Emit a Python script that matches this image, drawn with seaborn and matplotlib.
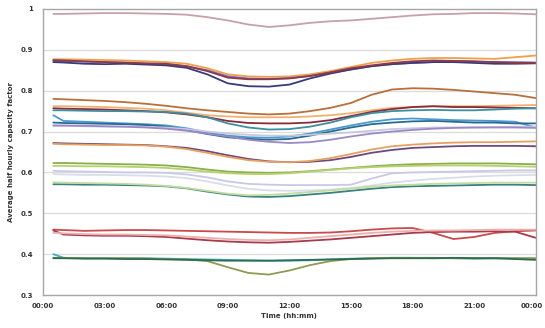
import matplotlib
matplotlib.use("Agg")
import matplotlib.pyplot as plt
import matplotlib.transforms as mtransforms
import seaborn as sns
import pandas as pd

# Half-hourly capacity factors sampled on an hourly grid (hours after midnight)
hours = [0.5, 1, 2, 3, 4, 5, 6, 7, 8, 9, 10, 11, 12, 13, 14, 15, 16, 17, 18, 19, 20, 21, 22, 23, 24]

series_a = [0.988, 0.988, 0.989, 0.990, 0.990, 0.989, 0.988, 0.986, 0.980, 0.972, 0.962, 0.956, 0.960, 0.966, 0.970, 0.972, 0.976, 0.980, 0.984, 0.987, 0.988, 0.990, 0.990, 0.989, 0.987]
series_b = [0.877, 0.877, 0.876, 0.875, 0.874, 0.872, 0.870, 0.866, 0.855, 0.840, 0.835, 0.834, 0.835, 0.840, 0.848, 0.858, 0.868, 0.874, 0.878, 0.880, 0.880, 0.879, 0.878, 0.882, 0.886]
series_c = [0.873, 0.872, 0.871, 0.870, 0.868, 0.866, 0.864, 0.860, 0.850, 0.835, 0.830, 0.829, 0.831, 0.836, 0.844, 0.852, 0.860, 0.865, 0.868, 0.870, 0.872, 0.871, 0.870, 0.870, 0.869]
series_d = [0.870, 0.869, 0.866, 0.865, 0.866, 0.864, 0.862, 0.856, 0.840, 0.818, 0.811, 0.810, 0.815, 0.830, 0.842, 0.852, 0.860, 0.865, 0.868, 0.870, 0.870, 0.868, 0.866, 0.866, 0.867]
series_e = [0.875, 0.874, 0.872, 0.870, 0.869, 0.867, 0.866, 0.860, 0.848, 0.832, 0.828, 0.828, 0.830, 0.836, 0.845, 0.855, 0.862, 0.868, 0.872, 0.874, 0.873, 0.872, 0.870, 0.868, 0.868]
series_f = [0.780, 0.779, 0.777, 0.775, 0.772, 0.768, 0.763, 0.757, 0.752, 0.748, 0.744, 0.742, 0.744, 0.750, 0.758, 0.770, 0.790, 0.803, 0.806, 0.805, 0.802, 0.798, 0.794, 0.790, 0.782]
series_g = [0.762, 0.762, 0.761, 0.760, 0.758, 0.756, 0.752, 0.746, 0.740, 0.737, 0.735, 0.735, 0.735, 0.737, 0.740, 0.745, 0.752, 0.758, 0.760, 0.762, 0.762, 0.762, 0.763, 0.764, 0.765]
series_h = [0.757, 0.756, 0.755, 0.754, 0.752, 0.750, 0.747, 0.742, 0.735, 0.726, 0.721, 0.720, 0.720, 0.722, 0.728, 0.738, 0.748, 0.755, 0.760, 0.762, 0.760, 0.760, 0.759, 0.758, 0.757]
series_i = [0.752, 0.752, 0.751, 0.750, 0.750, 0.749, 0.748, 0.744, 0.735, 0.720, 0.710, 0.705, 0.706, 0.712, 0.722, 0.735, 0.745, 0.750, 0.752, 0.753, 0.752, 0.752, 0.754, 0.756, 0.757]
series_j = [0.740, 0.726, 0.724, 0.722, 0.720, 0.718, 0.715, 0.708, 0.698, 0.690, 0.686, 0.685, 0.688, 0.695, 0.705, 0.715, 0.724, 0.730, 0.732, 0.730, 0.728, 0.727, 0.726, 0.724, 0.710]
series_k = [0.722, 0.721, 0.720, 0.719, 0.718, 0.716, 0.712, 0.704, 0.694, 0.686, 0.682, 0.680, 0.682, 0.690, 0.700, 0.710, 0.718, 0.722, 0.725, 0.726, 0.724, 0.722, 0.722, 0.720, 0.720]
series_l = [0.714, 0.714, 0.713, 0.712, 0.712, 0.711, 0.710, 0.706, 0.700, 0.695, 0.692, 0.690, 0.690, 0.692, 0.695, 0.698, 0.702, 0.706, 0.708, 0.710, 0.710, 0.710, 0.711, 0.712, 0.712]
series_m = [0.715, 0.715, 0.714, 0.713, 0.712, 0.710, 0.707, 0.702, 0.695, 0.688, 0.680, 0.675, 0.672, 0.674, 0.680, 0.688, 0.695, 0.700, 0.704, 0.707, 0.709, 0.710, 0.710, 0.710, 0.709]
series_n = [0.672, 0.671, 0.670, 0.669, 0.668, 0.667, 0.664, 0.660, 0.652, 0.642, 0.633, 0.627, 0.625, 0.626, 0.630, 0.638, 0.648, 0.655, 0.660, 0.662, 0.664, 0.665, 0.665, 0.665, 0.664]
series_o = [0.670, 0.669, 0.668, 0.667, 0.667, 0.666, 0.663, 0.657, 0.648, 0.638, 0.630, 0.626, 0.625, 0.628, 0.635, 0.645, 0.656, 0.664, 0.668, 0.671, 0.673, 0.674, 0.674, 0.675, 0.676]
series_p = [0.623, 0.623, 0.622, 0.621, 0.620, 0.619, 0.617, 0.613, 0.607, 0.602, 0.600, 0.599, 0.600, 0.603, 0.607, 0.611, 0.615, 0.618, 0.620, 0.621, 0.622, 0.622, 0.622, 0.621, 0.620]
series_q = [0.616, 0.616, 0.615, 0.615, 0.614, 0.613, 0.611, 0.607, 0.602, 0.598, 0.596, 0.596, 0.598, 0.602, 0.606, 0.610, 0.613, 0.615, 0.616, 0.617, 0.617, 0.617, 0.616, 0.615, 0.614]
series_r = [0.604, 0.603, 0.602, 0.601, 0.600, 0.600, 0.599, 0.595, 0.588, 0.578, 0.572, 0.570, 0.569, 0.569, 0.569, 0.570, 0.585, 0.598, 0.600, 0.601, 0.602, 0.603, 0.604, 0.605, 0.605]
series_s = [0.596, 0.595, 0.594, 0.594, 0.593, 0.592, 0.590, 0.586, 0.578, 0.568, 0.560, 0.556, 0.555, 0.556, 0.558, 0.562, 0.568, 0.575, 0.580, 0.584, 0.587, 0.590, 0.592, 0.593, 0.594]
series_t = [0.571, 0.571, 0.570, 0.570, 0.569, 0.568, 0.566, 0.561, 0.553, 0.546, 0.541, 0.540, 0.542, 0.546, 0.550, 0.555, 0.560, 0.564, 0.566, 0.567, 0.568, 0.569, 0.570, 0.570, 0.569]
series_u = [0.576, 0.575, 0.574, 0.573, 0.572, 0.570, 0.567, 0.562, 0.555, 0.548, 0.544, 0.545, 0.548, 0.552, 0.556, 0.560, 0.565, 0.568, 0.570, 0.572, 0.573, 0.574, 0.575, 0.575, 0.575]
series_v = [0.460, 0.459, 0.457, 0.458, 0.459, 0.459, 0.458, 0.457, 0.456, 0.455, 0.454, 0.453, 0.452, 0.452, 0.453, 0.456, 0.460, 0.463, 0.464, 0.452, 0.437, 0.442, 0.452, 0.456, 0.458]
series_w = [0.458, 0.448, 0.446, 0.445, 0.445, 0.444, 0.442, 0.438, 0.434, 0.431, 0.429, 0.428, 0.430, 0.433, 0.436, 0.440, 0.444, 0.448, 0.452, 0.454, 0.455, 0.455, 0.456, 0.455, 0.440]
series_x = [0.452, 0.451, 0.449, 0.448, 0.448, 0.447, 0.446, 0.443, 0.440, 0.437, 0.435, 0.434, 0.436, 0.440, 0.444, 0.448, 0.452, 0.455, 0.457, 0.458, 0.458, 0.459, 0.460, 0.460, 0.460]
series_y = [0.400, 0.391, 0.390, 0.390, 0.390, 0.390, 0.389, 0.388, 0.387, 0.386, 0.385, 0.384, 0.384, 0.385, 0.387, 0.389, 0.390, 0.391, 0.391, 0.390, 0.390, 0.389, 0.390, 0.390, 0.389]
series_z = [0.391, 0.391, 0.390, 0.390, 0.390, 0.389, 0.388, 0.387, 0.383, 0.368, 0.354, 0.350, 0.360, 0.373, 0.383, 0.388, 0.390, 0.391, 0.391, 0.391, 0.390, 0.390, 0.390, 0.390, 0.390]
series_aa = [0.390, 0.390, 0.389, 0.389, 0.388, 0.388, 0.387, 0.386, 0.385, 0.384, 0.384, 0.384, 0.385, 0.386, 0.387, 0.388, 0.389, 0.390, 0.390, 0.390, 0.391, 0.390, 0.390, 0.388, 0.386]

series_colors = {
    "A": ("#c8a0a8", series_a), "B": ("#f0a04b", series_b), "C": ("#8068b0", series_c),
    "D": ("#3a3a78", series_d), "E": ("#8b3a4a", series_e), "F": ("#b8703a", series_f),
    "G": ("#f0b070", series_g), "H": ("#8a2a3a", series_h), "I": ("#3c90a0", series_i),
    "J": ("#4a9ad0", series_j), "K": ("#2a6a90", series_k), "L": ("#c8c8dc", series_l),
    "M": ("#9a88c8", series_m), "N": ("#6a4a7a", series_n), "O": ("#e8a060", series_o),
    "P": ("#88b048", series_p), "Q": ("#b8d070", series_q), "R": ("#c8c8e8", series_r),
    "S": ("#d8dde8", series_s), "T": ("#3a8080", series_t), "U": ("#c0dca0", series_u),
    "V": ("#c84a4a", series_v), "W": ("#a83a4a", series_w), "X": ("#eab0b0", series_x),
    "Y": ("#40b0c0", series_y), "Z": ("#909a50", series_z), "AA": ("#2e6b50", series_aa),
}

x_ticks = [0, 3, 6, 9, 12, 15, 18, 21, 24]
x_labels = ["00:00", "03:00", "06:00", "09:00", "12:00", "15:00", "18:00", "21:00", "00:00"]
y_ticks = [0.3, 0.4, 0.5, 0.6, 0.7, 0.8, 0.9, 1.0]
y_labels = ["0.3", "0.4", "0.5", "0.6", "0.7", "0.8", "0.9", "1"]

rows = []
for name, (_, vals) in series_colors.items():
    for h, v in zip(hours, vals):
        rows.append({"hour": h, "cf": v, "series": name})
df = pd.DataFrame(rows)
palette = {name: col for name, (col, _) in series_colors.items()}

sns.set_style("white")
plt.rcParams["font.family"] = ["DejaVu Sans"]

fig = plt.figure(figsize=(5.45, 3.28), dpi=100)
ax = fig.add_axes([0.079, 0.1006, 0.904, 0.872])

for y in y_ticks[1:-1]:
    ax.axhline(y, color="#dcdcdc", lw=0.9, zorder=0)

sns.lineplot(data=df, x="hour", y="cf", hue="series", palette=palette,
             legend=False, linewidth=1.3, ax=ax, sort=True)

ax.set_xlim(0, 24)
ax.set_ylim(0.3, 1.0)
ax.set_xticks(x_ticks)
ax.set_xticklabels(x_labels, fontsize=5, fontweight="bold", color="#333333")
ax.set_yticks(y_ticks)
ax.set_yticklabels(y_labels, fontsize=5, fontweight="bold", color="#333333")
ax.tick_params(axis="both", length=3, width=0.7, color="#a0a0a0", pad=4)
ax.tick_params(axis="x", direction="inout")
ax.set_xlabel("Time (hh:mm)", fontsize=5, fontweight="bold", color="#333333", labelpad=3)
ax.set_ylabel("Average half hourly capacity factor", fontsize=5, fontweight="bold",
              color="#333333", labelpad=5)
for sp in ax.spines.values():
    sp.set_visible(True)
    sp.set_color("#a6a6a6")
    sp.set_linewidth(1.0)

# Keep the closing midnight label inside the canvas
last = ax.get_xticklabels()[-1]
last.set_transform(last.get_transform() +
                   mtransforms.ScaledTranslation(-4 / 100, 0, fig.dpi_scale_trans))

fig.savefig("out.png", dpi=100, facecolor="white")
